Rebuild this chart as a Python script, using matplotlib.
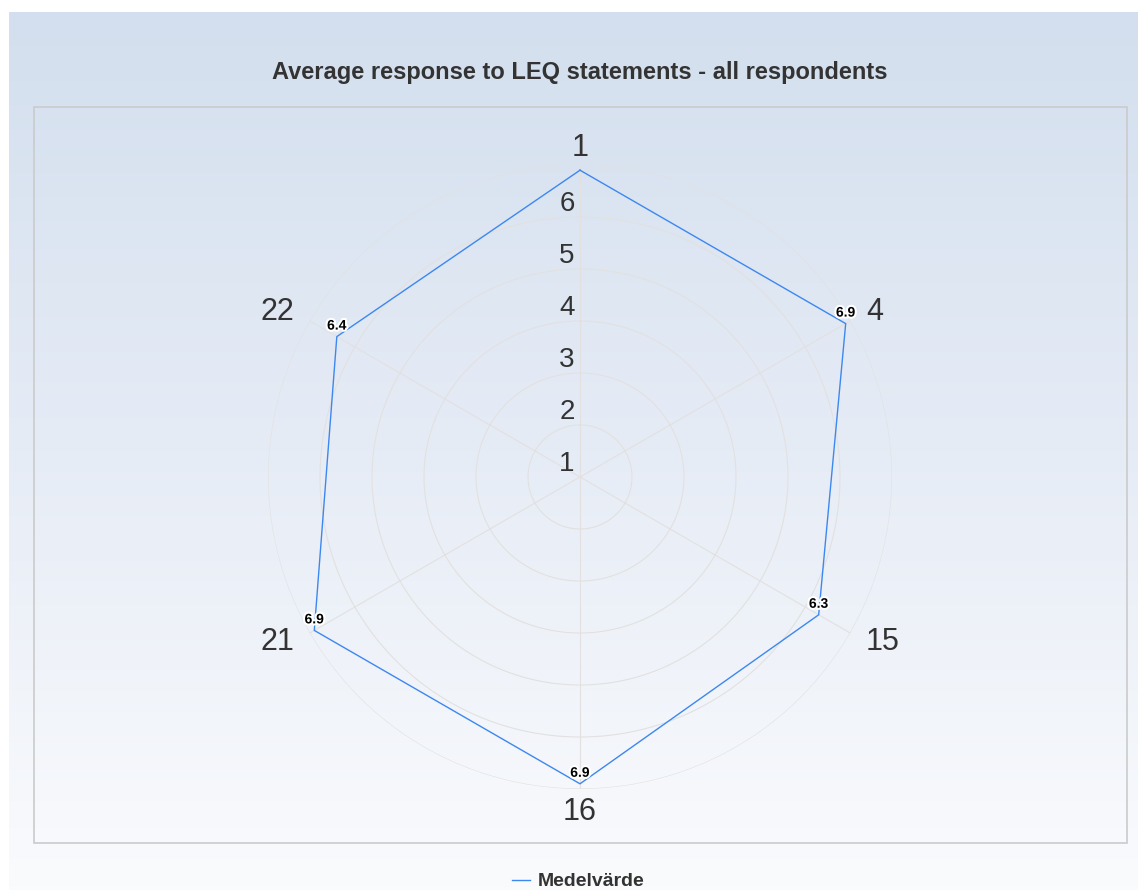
import matplotlib.pyplot as plt
import numpy as np
from matplotlib import patheffects
from matplotlib.colors import LinearSegmentedColormap
from matplotlib.lines import Line2D
from matplotlib.patches import Rectangle

plt.rcParams['font.family'] = ['Liberation Sans', 'DejaVu Sans']

categories = ['1', '4', '15', '16', '21', '22']
values = [6.9, 6.9, 6.3, 6.9, 6.9, 6.4]
show_value = [False, True, True, True, True, True]
ticks = [1, 2, 3, 4, 5, 6]
r_min, r_max = 1, 7

title = 'Average response to LEQ statements - all respondents'
series_name = 'Medelvärde'
line_color = '#3d87f0'
grid_color = '#e2e1e0'
text_color = '#333333'

W, H = 1138, 890
fig = plt.figure(figsize=(W / 100, H / 100), dpi=100)

# gradient backdrop
bg = fig.add_axes([9 / W, 0, 1 - 9 / W, (H - 12) / H])
grad = np.linspace(0, 1, 256)[:, None]
cmap = LinearSegmentedColormap.from_list('bg', ['#d3dfee', '#e6ecf6', '#fafbfd'])
bg.imshow(grad, aspect='auto', cmap=cmap, extent=[0, 1, 0, 1], origin='upper')
bg.axis('off')

# plot area frame
fig.patches.append(Rectangle((34 / W, (H - 843) / H), (1127 - 34) / W, (843 - 107) / H,
                             transform=fig.transFigure, fill=False,
                             ec='#cbcbcb', lw=1.2))

fig.text(580 / W, 1 - 73 / H, title, ha='center', va='center',
         fontsize=17, fontweight='bold', color=text_color)

# radar
cx, cy, R = 580, 477, 312
ax = fig.add_axes([(cx - R) / W, (H - cy - R) / H, 2 * R / W, 2 * R / H],
                  projection='polar')
ax.patch.set_alpha(0)
ax.set_theta_zero_location('N')
ax.set_theta_direction(-1)
ax.set_ylim(r_min, r_max)
ax.grid(False)
ax.spines['polar'].set_visible(False)
ax.set_xticks([])
ax.set_yticks([])

angles = np.arange(len(categories)) * 2 * np.pi / len(categories)
th = np.linspace(0, 2 * np.pi, 400)
for r in range(r_min + 1, r_max + 1):
    ax.plot(th, np.full_like(th, r), color=grid_color, lw=0.8, zorder=1)
for a in angles:
    ax.plot([a, a], [r_min, r_max], color=grid_color, lw=0.8, zorder=1)

ax.plot(np.append(angles, angles[0]), np.append(values, values[0]),
        color=line_color, lw=1.0, zorder=3)

for t in ticks:
    ax.annotate(str(t), xy=(0, t), xytext=(-13, 13), textcoords='offset pixels',
                ha='center', va='center', fontsize=20, color=text_color, zorder=2)

label_pos = {
    '1': ((0, 9), 'center', 'baseline'),
    '4': ((15.6, 9), 'left', 'center'),
    '15': ((15.6, -9), 'left', 'center'),
    '16': ((0, -8), 'center', 'top'),
    '21': ((-15.6, -9), 'right', 'center'),
    '22': ((-15.6, 9), 'right', 'center'),
}
for a, cat in zip(angles, categories):
    off, ha, va = label_pos[cat]
    ax.annotate(cat, xy=(a, r_max), xytext=off, textcoords='offset pixels',
                ha=ha, va=va, fontsize=22, color=text_color, annotation_clip=False)

halo = [patheffects.withStroke(linewidth=3, foreground='white')]
for a, v, show in zip(angles, values, show_value):
    if show:
        ax.annotate(f'{v:.1f}', xy=(a, v), xytext=(0, 11), textcoords='offset pixels',
                    ha='center', va='center', fontsize=10, fontweight='bold',
                    color='black', path_effects=halo, zorder=4)

# legend
fig.lines.append(Line2D([512 / W, 530 / W], [1 - 880 / H, 1 - 880 / H],
                        transform=fig.transFigure, color=line_color, lw=1.0))
fig.text(538 / W, 1 - 881 / H, series_name, ha='left', va='center',
         fontsize=14, fontweight='bold', color=text_color)

fig.savefig('out.png', dpi=100)
